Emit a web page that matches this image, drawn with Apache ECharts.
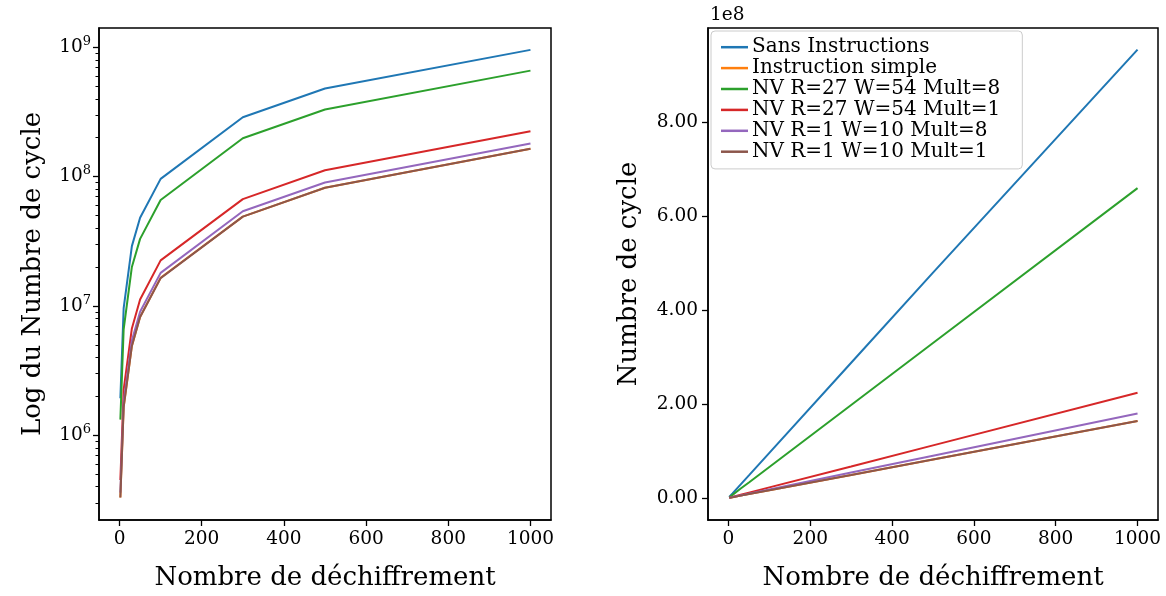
<!DOCTYPE html>
<html>
<head>
<meta charset="utf-8">
<script src="https://cdn.jsdelivr.net/npm/echarts@6/dist/echarts.min.js"></script>
<style>
  html, body { margin: 0; padding: 0; background: #fff; }
  #chart { width: 1166px; height: 596px; }
</style>
</head>
<body>
<div id="chart"></div>
<script>
// nombre de déchiffrements
const xValues = [2, 10, 30, 50, 100, 300, 500, 1000]
const seriesNames = [
  'Sans Instructions',
  'Instruction simple',
  'NV R=27 W=54 Mult=8',
  'NV R=27 W=54 Mult=1',
  'NV R=1 W=10 Mult=8',
  'NV R=1 W=10 Mult=1'
]
const sansInstructions = [1.93e6, 9.6e6, 2.9e7, 4.8e7, 9.6e7, 2.88e8, 4.8e8, 9.55e8]
const instructionSimple = [3.3e5, 1.65e6, 4.9e6, 8.2e6, 1.65e7, 4.9e7, 8.2e7, 1.64e8]
const nvR27Mult8 = [1.32e6, 6.6e6, 2.0e7, 3.3e7, 6.6e7, 1.98e8, 3.3e8, 6.6e8]
const nvR27Mult1 = [4.5e5, 2.25e6, 6.7e6, 1.12e7, 2.25e7, 6.7e7, 1.12e8, 2.24e8]
const nvR1Mult8 = [3.6e5, 1.8e6, 5.4e6, 9.0e6, 1.8e7, 5.4e7, 9.0e7, 1.8e8]
const nvR1Mult1 = [3.3e5, 1.65e6, 4.9e6, 8.2e6, 1.64e7, 4.9e7, 8.2e7, 1.64e8]
const allValues = [sansInstructions, instructionSimple, nvR27Mult8, nvR27Mult1, nvR1Mult8, nvR1Mult1]
const colors = ['#1f77b4', '#ff7f0e', '#2ca02c', '#d62728', '#9467bd', '#8c564b']

// graduations
const xTicks = [0, 200, 400, 600, 800, 1000]
const logMajorTicks = [1e6, 1e7, 1e8, 1e9]
const logMinorTicks = [3e5, 4e5, 5e5, 6e5, 7e5, 8e5, 9e5,
  2e6, 3e6, 4e6, 5e6, 6e6, 7e6, 8e6, 9e6,
  2e7, 3e7, 4e7, 5e7, 6e7, 7e7, 8e7, 9e7,
  2e8, 3e8, 4e8, 5e8, 6e8, 7e8, 8e8, 9e8]
const linTicks = [0, 2e8, 4e8, 6e8, 8e8]

const FONT = 'DejaVu Serif'

function pairs (vals) {
  return xValues.map((x, i) => [x, vals[i]])
}

function xAxisFor (grid) {
  return {
    type: 'value',
    gridIndex: grid,
    min: -50,
    max: 1050,
    name: 'Nombre de déchiffrement',
    nameLocation: 'middle',
    nameGap: 45,
    nameTextStyle: { fontFamily: FONT, fontSize: 26, color: '#000' },
    axisLine: { show: true, onZero: false, lineStyle: { color: '#000', width: 1.5 } },
    axisTick: { show: true, length: 6, lineStyle: { color: '#000', width: 1.3 }, customValues: xTicks },
    axisLabel: {
      fontFamily: FONT,
      fontSize: 18.5,
      color: '#000',
      margin: 10,
      customValues: xTicks,
      formatter: function (v) { return String(v) }
    },
    splitLine: { show: false }
  }
}

let series = []
allValues.forEach((vals, i) => {
  series.push({
    name: seriesNames[i],
    type: 'line',
    xAxisIndex: 0,
    yAxisIndex: 0,
    data: pairs(vals),
    showSymbol: false,
    symbol: 'none',
    lineStyle: { color: colors[i], width: 2 },
    itemStyle: { color: colors[i] },
    animation: false
  })
  series.push({
    name: seriesNames[i],
    type: 'line',
    xAxisIndex: 1,
    yAxisIndex: 2,
    data: pairs(vals),
    showSymbol: false,
    symbol: 'none',
    lineStyle: { color: colors[i], width: 2 },
    itemStyle: { color: colors[i] },
    animation: false
  })
})

let chart = echarts.init(document.getElementById('chart'), null, { renderer: 'canvas' })
chart.setOption({
  animation: false,
  backgroundColor: '#fff',
  grid: [
    { left: 99, top: 28, width: 452, height: 494, show: true, borderColor: '#000', borderWidth: 1.5, containLabel: false },
    { left: 708, top: 28, width: 450, height: 494, show: true, borderColor: '#000', borderWidth: 1.5, containLabel: false }
  ],
  legend: {
    data: seriesNames,
    orient: 'vertical',
    left: 711,
    top: 31,
    padding: [6, 22, 7, 10],
    itemGap: 0.5,
    itemWidth: 27,
    itemHeight: 2.5,
    icon: 'rect',
    backgroundColor: 'rgba(255,255,255,0.85)',
    borderColor: '#cccccc',
    borderWidth: 1,
    borderRadius: 4,
    selectedMode: false,
    textStyle: { fontFamily: FONT, fontSize: 20, lineHeight: 20.4, color: '#000', padding: [0, 0, 0, -1] }
  },
  graphic: [
    {
      type: 'text',
      left: 710,
      top: 6,
      style: { text: '1e8', fontFamily: FONT, fontSize: 18.5, fill: '#000' }
    }
  ],
  xAxis: [xAxisFor(0), xAxisFor(1)],
  yAxis: [
    {
      type: 'log',
      logBase: 10,
      gridIndex: 0,
      min: 2.21e5,
      max: 1.41e9,
      name: 'Log du Numbre de cycle',
      nameLocation: 'middle',
      nameGap: 53,
      nameTextStyle: { fontFamily: FONT, fontSize: 26, color: '#000' },
      axisLine: { show: true, onZero: false, lineStyle: { color: '#000', width: 1.5 } },
      axisTick: { show: true, length: 6, lineStyle: { color: '#000', width: 1.3 }, customValues: logMajorTicks },
      axisLabel: {
        margin: 8,
        customValues: logMajorTicks,
        formatter: function (v) {
          return '{b|10}{s|' + Math.round(Math.log10(v)) + '}'
        },
        rich: {
          b: { fontFamily: FONT, fontSize: 18.5, color: '#000' },
          s: { fontFamily: FONT, fontSize: 13, color: '#000', padding: [0, 0, 11, 0] }
        }
      },
      splitLine: { show: false }
    },
    {
      // petites graduations du log
      type: 'log',
      logBase: 10,
      gridIndex: 0,
      min: 2.21e5,
      max: 1.41e9,
      position: 'left',
      axisLine: { show: false, onZero: false },
      axisTick: { show: true, length: 3.5, lineStyle: { color: '#000', width: 1 }, customValues: logMinorTicks },
      axisLabel: { show: false },
      splitLine: { show: false }
    },
    {
      type: 'value',
      gridIndex: 1,
      min: -4.7e7,
      max: 1.001e9,
      name: 'Numbre de cycle',
      nameLocation: 'middle',
      nameGap: 66,
      nameTextStyle: { fontFamily: FONT, fontSize: 26, color: '#000' },
      axisLine: { show: true, onZero: false, lineStyle: { color: '#000', width: 1.5 } },
      axisTick: { show: true, length: 6, lineStyle: { color: '#000', width: 1.3 }, customValues: linTicks },
      axisLabel: {
        fontFamily: FONT,
        fontSize: 18.5,
        color: '#000',
        margin: 10,
        customValues: linTicks,
        formatter: function (v) {
          return (v / 1e8).toFixed(2)
        }
      },
      splitLine: { show: false }
    }
  ],
  series: series
})
</script>
</body>
</html>
